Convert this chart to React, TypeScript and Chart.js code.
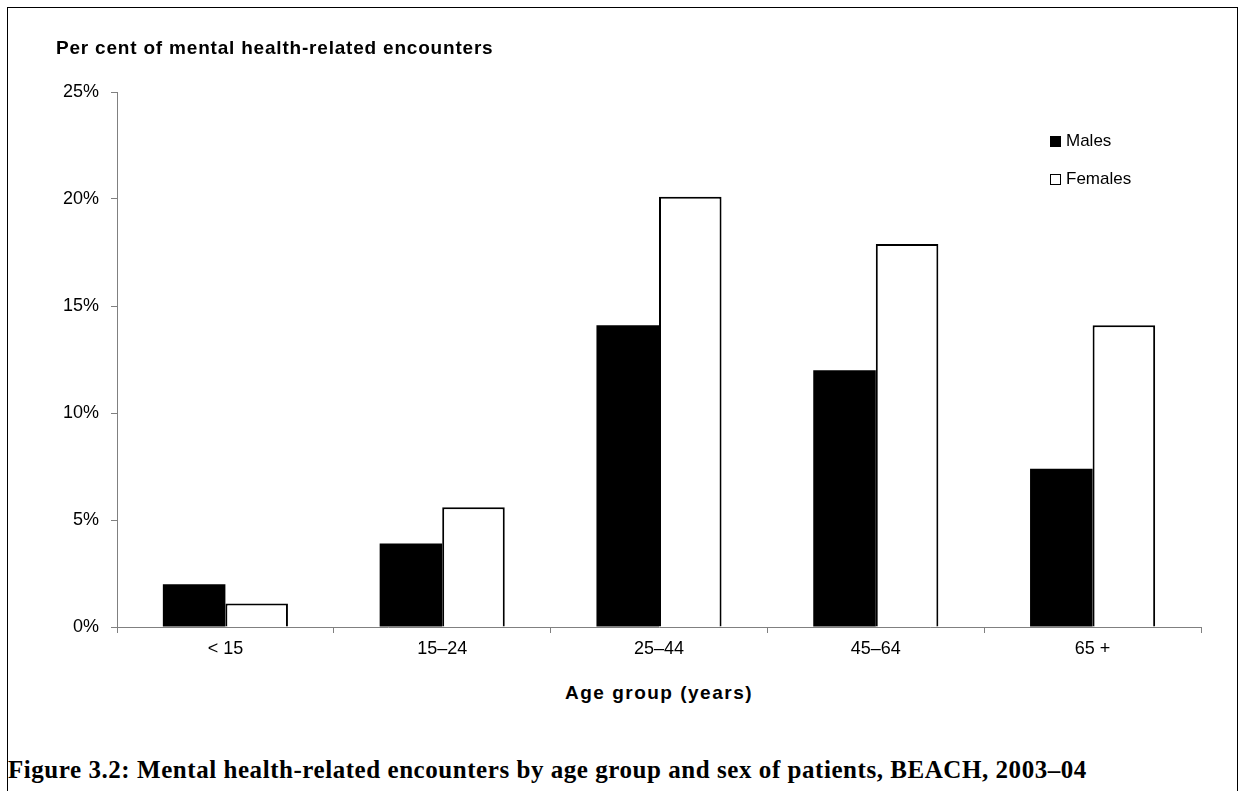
import React, { useEffect, useRef } from "react";
import { Chart, registerables } from "chart.js";

Chart.register(...registerables);

const categories = ["< 15", "15–24", "25–44", "45–64", "65 +"];
const males = [2.0, 3.9, 14.1, 12.0, 7.4];
const females = [1.1, 5.6, 20.1, 17.9, 14.1];
const yTicks = [0, 5, 10, 15, 20, 25];

const SANS = '"Liberation Sans", Arial, sans-serif';

export default function App() {
  const ref = useRef<HTMLCanvasElement | null>(null);

  useEffect(() => {
    if (!ref.current) return;
    const chart = new Chart(ref.current, {
      type: "bar",
      data: {
        labels: categories,
        datasets: [
          {
            label: "Males",
            data: males,
            backgroundColor: "#000000",
            borderColor: "#000000",
            borderWidth: 0,
            categoryPercentage: 0.577,
            barPercentage: 1.0,
          },
          {
            label: "Females",
            data: females,
            backgroundColor: "#ffffff",
            borderColor: "#000000",
            borderWidth: 2,
            categoryPercentage: 0.577,
            barPercentage: 1.0,
          },
        ],
      },
      options: {
        animation: false,
        responsive: false,
        maintainAspectRatio: false,
        layout: { padding: { left: 0, right: 38, top: 92, bottom: 0 } },
        plugins: {
          legend: { display: false },
          tooltip: { enabled: false },
          title: { display: false },
        },
        scales: {
          x: {
            grid: {
              display: true,
              drawOnChartArea: false,
              drawTicks: true,
              tickLength: 6,
              color: "#808080",
              offset: true,
            },
            border: { display: true, color: "#808080", width: 1 },
            ticks: {
              color: "#000000",
              font: { family: SANS, size: 18 },
              padding: 5,
            },
            title: { display: false },
            afterFit: (scale: any) => {
              scale.height = 54;
            },
          },
          y: {
            min: 0,
            max: 25,
            afterBuildTicks: (scale: any) => {
              scale.ticks = yTicks.map((v) => ({ value: v }));
            },
            grid: {
              display: true,
              drawOnChartArea: false,
              drawTicks: true,
              tickLength: 6,
              color: "#808080",
            },
            border: { display: true, color: "#808080", width: 1 },
            ticks: {
              color: "#000000",
              font: { family: SANS, size: 18 },
              padding: 12,
              callback: (v: any) => v + "%",
            },
            afterFit: (scale: any) => {
              scale.width = 117;
            },
          },
        },
      },
    });
    return () => chart.destroy();
  }, []);

  return (
    <div
      style={{
        position: "absolute",
        left: 0,
        top: 0,
        width: 1239,
        height: 791,
        overflow: "hidden",
        background: "#ffffff",
      }}
    >
      <div
        style={{
          position: "absolute",
          left: 7,
          top: 7,
          width: 1231,
          height: 900,
          border: "1.5px solid #000",
          boxSizing: "border-box",
        }}
      />
      <canvas
        ref={ref}
        width={1239}
        height={681}
        style={{ position: "absolute", left: 0, top: 0, width: 1239, height: 681 }}
      />
      <div
        style={{
          position: "absolute",
          left: 56,
          top: 36,
          fontFamily: SANS,
          fontWeight: "bold",
          fontSize: 19,
          lineHeight: "24px",
          letterSpacing: "0.8px",
          color: "#000",
          whiteSpace: "nowrap",
        }}
      >
        Per cent of mental health-related encounters
      </div>
      <div
        style={{
          position: "absolute",
          left: 459,
          width: 400,
          top: 681,
          textAlign: "center",
          fontFamily: SANS,
          fontWeight: "bold",
          fontSize: 19,
          lineHeight: "24px",
          letterSpacing: "1.5px",
          color: "#000",
          whiteSpace: "nowrap",
        }}
      >
        Age group (years)
      </div>
      <div
        style={{
          position: "absolute",
          left: 1050,
          top: 130,
          fontFamily: SANS,
          fontSize: 17,
          lineHeight: "22px",
          color: "#000",
        }}
      >
        <div style={{ display: "flex", alignItems: "center", height: 22 }}>
          <span
            style={{
              display: "inline-block",
              width: 11,
              height: 11,
              background: "#000",
              marginRight: 5,
              boxSizing: "border-box",
            }}
          />
          <span>Males</span>
        </div>
        <div style={{ display: "flex", alignItems: "center", height: 22, marginTop: 16 }}>
          <span
            style={{
              display: "inline-block",
              width: 11,
              height: 11,
              background: "#fff",
              border: "1.5px solid #000",
              marginRight: 5,
              boxSizing: "border-box",
            }}
          />
          <span>Females</span>
        </div>
      </div>
      <div
        style={{
          position: "absolute",
          left: 8,
          top: 755,
          fontFamily: '"Liberation Serif", "Times New Roman", serif',
          fontWeight: "bold",
          fontSize: 25,
          lineHeight: "30px",
          letterSpacing: "0.55px",
          color: "#000",
          whiteSpace: "nowrap",
        }}
      >
        Figure 3.2: Mental health-related encounters by age group and sex of patients, BEACH, 2003–04
      </div>
    </div>
  );
}
